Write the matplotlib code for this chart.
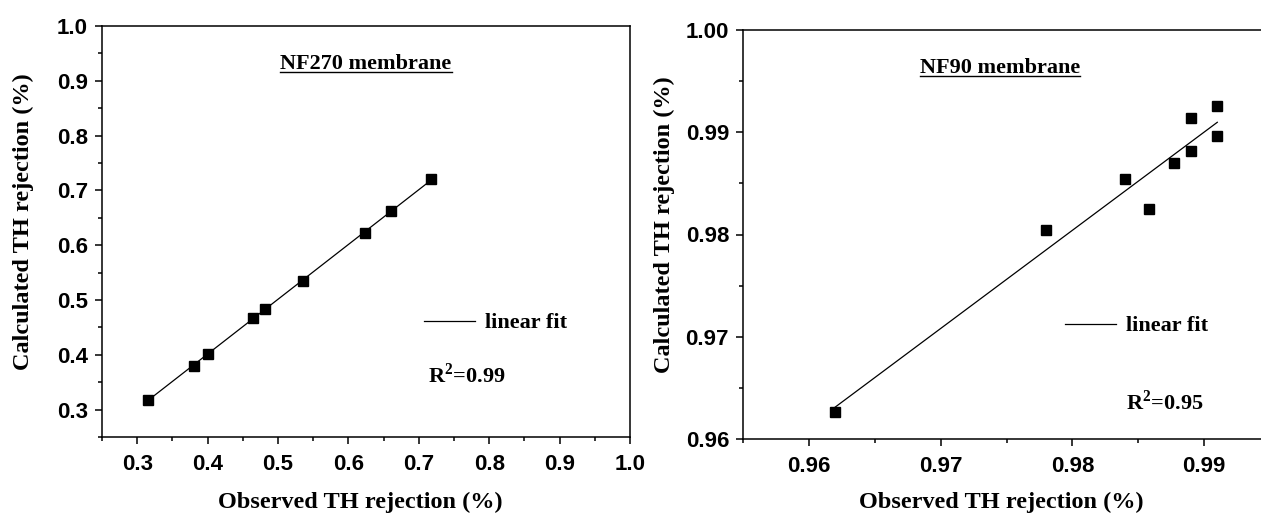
import numpy as np
import matplotlib
matplotlib.use("Agg")
import matplotlib.pyplot as plt
from matplotlib.ticker import MultipleLocator, FormatStrFormatter

plt.rcParams['mathtext.fontset'] = 'custom'
plt.rcParams['mathtext.rm'] = 'Liberation Serif:bold'
plt.rcParams['mathtext.bf'] = 'Liberation Serif:bold'

# NF270 membrane (observed vs calculated TH rejection)
nf270_obs = [0.316, 0.380, 0.400, 0.465, 0.481, 0.535, 0.624, 0.661, 0.718]
nf270_calc = [0.318, 0.380, 0.401, 0.468, 0.484, 0.535, 0.623, 0.662, 0.721]

# NF90 membrane
nf90_obs = [0.962, 0.978, 0.984, 0.9858, 0.9877, 0.989, 0.989, 0.991, 0.991]
nf90_calc = [0.9626, 0.9804, 0.9854, 0.9825, 0.9870, 0.9914, 0.9882, 0.9926, 0.9896]

panels = [
    {"obs": nf270_obs, "calc": nf270_calc, "title": "NF270 membrane", "r2": "0.99",
     "xlim": (0.25, 1.0), "ylim": (0.25, 1.0), "major": 0.1, "minor": 0.05, "fmt": "%.1f",
     "pos": [102/1261, 1-437/514, 528/1261, 411/514],
     "title_xy": (0.5, 0.908), "leg_xy": (0.61, 0.277), "r2_xy": (0.617, 0.131),
     "xlab": (0.49, -0.158), "ylab": (-0.148, 0.523), "yticks": np.arange(0.3, 1.01, 0.1)},
    {"obs": nf90_obs, "calc": nf90_calc, "title": "NF90 membrane", "r2": "0.95",
     "xlim": (0.955, 0.995), "ylim": (0.96, 1.0), "major": 0.01, "minor": 0.005, "fmt": "%.2f",
     "pos": [743/1261, 1-439/514, 527/1261, 409/514],
     "title_xy": (0.488, 0.907), "leg_xy": (0.611, 0.276), "r2_xy": (0.727, 0.071),
     "xlab": (0.491, -0.154), "ylab": (-0.150, 0.523), "yticks": np.arange(0.96, 1.001, 0.01)},
]

fig = plt.figure(figsize=(12.61, 5.14), dpi=100)
serif = {"family": "Liberation Serif", "weight": "bold"}

titles = []
for p in panels:
    ax = fig.add_axes(p["pos"])
    x = np.array(p["obs"])
    y = np.array(p["calc"])
    coef = np.polyfit(x, y, 1)
    xf = np.array([x.min(), x.max()])
    ax.plot(xf, np.polyval(coef, xf), color='k', lw=0.9, label='linear fit')
    ax.plot(x, y, 's', color='k', ms=6.5, zorder=3)

    ax.set_xlim(*p["xlim"])
    ax.set_ylim(*p["ylim"])
    ax.xaxis.set_major_locator(MultipleLocator(p["major"]))
    ax.xaxis.set_minor_locator(MultipleLocator(p["minor"]))
    ax.set_yticks(p["yticks"])
    ax.yaxis.set_minor_locator(MultipleLocator(p["minor"]))
    ax.xaxis.set_major_formatter(FormatStrFormatter(p["fmt"]))
    ax.yaxis.set_major_formatter(FormatStrFormatter(p["fmt"]))
    ax.tick_params(which='both', direction='out', top=False, right=False, width=1.1)
    ax.tick_params(which='major', length=5)
    ax.tick_params(which='minor', length=3)
    ax.tick_params(axis='y', pad=5)
    ax.tick_params(axis='x', pad=7)
    for lab in ax.get_xticklabels() + ax.get_yticklabels():
        lab.set_fontfamily('Liberation Sans')
        lab.set_fontweight('bold')
        lab.set_fontsize(16)
    for s in ax.spines.values():
        s.set_linewidth(1.1)

    ax.set_xlabel("Observed TH rejection (%)", fontsize=17.5, va='center', **serif)
    ax.xaxis.set_label_coords(*p["xlab"])
    ax.set_ylabel("Calculated TH rejection (%)", fontsize=17.5, va='center', **serif)
    ax.yaxis.set_label_coords(*p["ylab"])

    t = ax.text(*p["title_xy"], p["title"], transform=ax.transAxes, ha='center', va='center',
                fontsize=16, **serif)
    titles.append((ax, t))

    ax.legend(loc='center left', bbox_to_anchor=p["leg_xy"], frameon=False,
              borderpad=0, borderaxespad=0, handlelength=2.3, handletextpad=0.45,
              prop={"family": "Liberation Serif", "weight": "bold", "size": 16})
    ax.text(*p["r2_xy"], r"R$^{\mathbf{2}}$=" + p["r2"], transform=ax.transAxes,
            ha='left', va='baseline', fontsize=16, **serif)

# underline the membrane labels
fig.canvas.draw()
renderer = fig.canvas.get_renderer()
for ax, t in titles:
    bb = t.get_window_extent(renderer).transformed(ax.transAxes.inverted())
    ax.plot([bb.x0, bb.x1], [bb.y0 + 0.005, bb.y0 + 0.005], color='k', lw=1.0,
            transform=ax.transAxes, clip_on=False)

fig.savefig("out.png", dpi=100)
